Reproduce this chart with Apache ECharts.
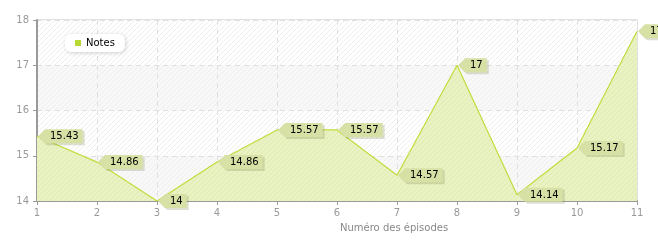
<!DOCTYPE html>
<html><head><meta charset="utf-8">
<script src="https://cdn.jsdelivr.net/npm/echarts@6/dist/echarts.min.js"></script>
<style>html,body{margin:0;padding:0;background:#fff}#c{width:658px;height:240px}</style>
</head><body><div id="c"></div>
<script>
const episodes = [1, 2, 3, 4, 5, 6, 7, 8, 9, 10, 11];
const notes = [15.43, 14.86, 14, 14.86, 15.57, 15.57, 14.57, 17, 14.14, 15.17, 17.75];
const noteLabels = ['15.43', '14.86', '14', '14.86', '15.57', '15.57', '14.57', '17', '14.14', '15.17', '17.75'];
const yTicks = [14, 15, 16, 17, 18];

const FONT = '10px "DejaVu Sans"';
function hatch(base, line, size) {
  const c = document.createElement('canvas');
  c.width = size; c.height = size;
  const g = c.getContext('2d');
  g.fillStyle = base; g.fillRect(0, 0, size, size);
  g.strokeStyle = line; g.lineWidth = 1;
  g.beginPath();
  g.moveTo(-1, size + 1); g.lineTo(size + 1, -1);
  g.moveTo(-1, 1); g.lineTo(1, -1);
  g.moveTo(size - 1, size + 1); g.lineTo(size + 1, size - 1);
  g.stroke();
  return {image: c, repeat: 'repeat'};
}
const mctx = document.createElement('canvas').getContext('2d');
mctx.font = FONT;

const chart = echarts.init(document.getElementById('c'));
chart.setOption({
  animation: false,
  grid: {left: 37, right: 21, top: 20, bottom: 39, show: true, borderColor: '#e2e2e2', borderWidth: 2, backgroundColor: 'transparent'},
  legend: {
    left: 65, top: 34, data: ['Notes'], backgroundColor: '#fff', borderRadius: 6, padding: [4, 10, 4, 10],
    shadowBlur: 4, shadowColor: 'rgba(0,0,0,0.18)', shadowOffsetX: 1, shadowOffsetY: 1,
    itemWidth: 6, itemHeight: 6, itemGap: 4, icon: 'rect',
    textStyle: {fontFamily: 'DejaVu Sans', fontSize: 10, color: '#000'}
  },
  xAxis: {
    type: 'value', min: 1, max: 11, interval: 1,
    name: 'Numéro des épisodes', nameLocation: 'middle', nameGap: 22,
    nameTextStyle: {fontFamily: 'DejaVu Sans', fontSize: 10, color: '#888', align: 'left', padding: [0, 0, 0, 3]},
    axisLine: {lineStyle: {color: '#9a9a9a', width: 2}},
    axisTick: {length: 4, lineStyle: {color: '#9a9a9a'}},
    axisLabel: {fontFamily: 'DejaVu Sans', fontSize: 10, color: '#999', margin: 7},
    splitLine: {show: true, lineStyle: {color: '#e0e0e0', type: [5, 4]}}
  },
  yAxis: {
    type: 'value', min: yTicks[0], max: yTicks[yTicks.length - 1], interval: 1,
    axisLine: {show: true, lineStyle: {color: '#9a9a9a', width: 2}},
    axisTick: {show: true, length: 4, lineStyle: {color: '#9a9a9a'}},
    axisLabel: {fontFamily: 'DejaVu Sans', fontSize: 10, color: '#999', margin: 8},
    splitLine: {show: true, lineStyle: {color: '#e0e0e0', type: [5, 4]}},
    splitArea: {show: true, areaStyle: {color: [hatch('#f8f8f8', '#eeeeee', 5), hatch('#ffffff', '#eeeeee', 5)]}}
  },
  series: [{
    name: 'Notes', type: 'line', data: episodes.map((e, i) => [e, notes[i]]),
    symbol: 'none', color: '#b8d832',
    lineStyle: {color: '#c2dc3c', width: 1.2},
    areaStyle: {color: hatch('#e9f2c2', '#e0eab0', 5), opacity: 1},
    z: 2
  }, {
    type: 'custom', name: 'labels', clip: false, z: 5, silent: true,
    data: episodes.map((e, i) => [e, notes[i]]),
    renderItem: function (params, api) {
      const p = api.coord([api.value(0), api.value(1)]);
      const txt = noteLabels[params.dataIndex];
      const tw = mctx.measureText(txt).width;
      const w = tw + 9, h = 14, ax = 7;
      const x0 = p[0] + 1, y0 = p[1];
      const pts = (dx, dy) => [[x0 + dx, y0 + dy], [x0 + ax + dx, y0 - h / 2 + dy], [x0 + ax + w + dx, y0 - h / 2 + dy], [x0 + ax + w + dx, y0 + h / 2 + dy], [x0 + ax + dx, y0 + h / 2 + dy]];
      return {
        type: 'group', children: [
          {type: 'polygon', shape: {points: pts(2, 2)}, style: {fill: 'rgba(120,130,80,0.25)'}},
          {type: 'polygon', shape: {points: pts(0, 0)}, style: {fill: '#d7e1a6'}},
          {type: 'text', style: {text: txt, x: x0 + ax + 5, y: y0 + 0.5, align: 'left', verticalAlign: 'middle', font: FONT, fill: '#000'}}
        ]
      };
    }
  }]
});
</script></body></html>
